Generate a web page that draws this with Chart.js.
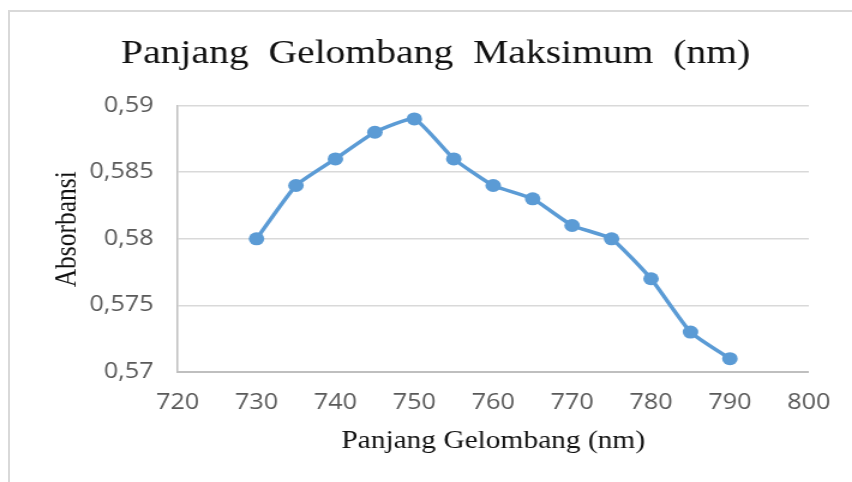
<!DOCTYPE html>
<html>
<head>
<meta charset="utf-8">
<script src="https://cdn.jsdelivr.net/npm/chart.js@4"></script>
<style>
  body { margin: 0; background: #fff; overflow: hidden; }
  #frame { position: absolute; left: 8px; top: 10px; width: 900px; height: 500px; border: 2px solid #d9d9d9; }
  #chart { position: absolute; left: 0; top: 0; }
</style>
</head>
<body>
<div id="frame"></div>
<!-- the original picture is stretched sideways by ~1.2, so the canvas is too -->
<canvas id="chart" width="710" height="482" style="width:852px;height:482px"></canvas>
<script>
const wavelengths = [730, 735, 740, 745, 750, 755, 760, 765, 770, 775, 780, 785, 790];
const absorbance = [0.580, 0.584, 0.586, 0.588, 0.589, 0.586, 0.584, 0.583, 0.581, 0.580, 0.577, 0.573, 0.571];
const xTickValues = [720, 730, 740, 750, 760, 770, 780, 790, 800];
const yTickLabels = ['0,57', '0,575', '0,58', '0,585', '0,59'];

const tickFont = { family: '"Open Sans", sans-serif', size: 21 };
const serif = '"Liberation Serif", "Times New Roman", serif';

new Chart(document.getElementById('chart'), {
  type: 'line',
  data: {
    datasets: [{
      data: wavelengths.map((w, i) => ({ x: w, y: absorbance[i] })),
      borderColor: '#5b9bd5',
      backgroundColor: '#5b9bd5',
      borderWidth: 3.5,
      pointRadius: 6.5,
      pointBorderWidth: 0,
      tension: 0.15,
    }],
  },
  options: {
    responsive: false,
    animation: false,
    devicePixelRatio: 1,
    layout: { padding: { left: 51, right: 35, top: 0, bottom: 10 } },
    plugins: {
      legend: { display: false },
      tooltip: { enabled: false },
      title: {
        display: true,
        text: 'Panjang  Gelombang  Maksimum  (nm)',
        color: '#111',
        font: { family: serif, size: 33, weight: 'normal' },
        padding: { top: 35, bottom: 31 },
      },
    },
    scales: {
      x: {
        type: 'linear',
        min: 720,
        max: 800,
        afterBuildTicks: s => { s.ticks = xTickValues.map(v => ({ value: v })); },
        afterFit: s => { s.height = 100; },
        grid: { display: false, drawTicks: false },
        border: { color: '#bfbfbf', width: 2 },
        ticks: { color: '#595959', font: tickFont, padding: 18, maxRotation: 0 },
        title: {
          display: true,
          text: 'Panjang Gelombang (nm)',
          color: '#111',
          font: { family: serif, size: 24.5 },
          padding: { top: 0, bottom: 16 },
        },
      },
      y: {
        min: 0.57,
        max: 0.59,
        ticks: {
          stepSize: 0.005,
          color: '#595959',
          font: tickFont,
          padding: 20,
          callback: (v, i) => yTickLabels[i],
        },
        afterFit: s => { s.width = 97; },
        grid: { color: '#d9d9d9', lineWidth: 1.5, drawTicks: false },
        border: { color: '#bfbfbf', width: 1.5 },
        title: {
          display: true,
          // leading spaces nudge the label up a little, as in the original
          text: '   Absorbansi',
          color: '#111',
          font: { family: serif, size: 25.5 },
          padding: { top: -10, bottom: 0 },
        },
      },
    },
  },
});
</script>
</body>
</html>
